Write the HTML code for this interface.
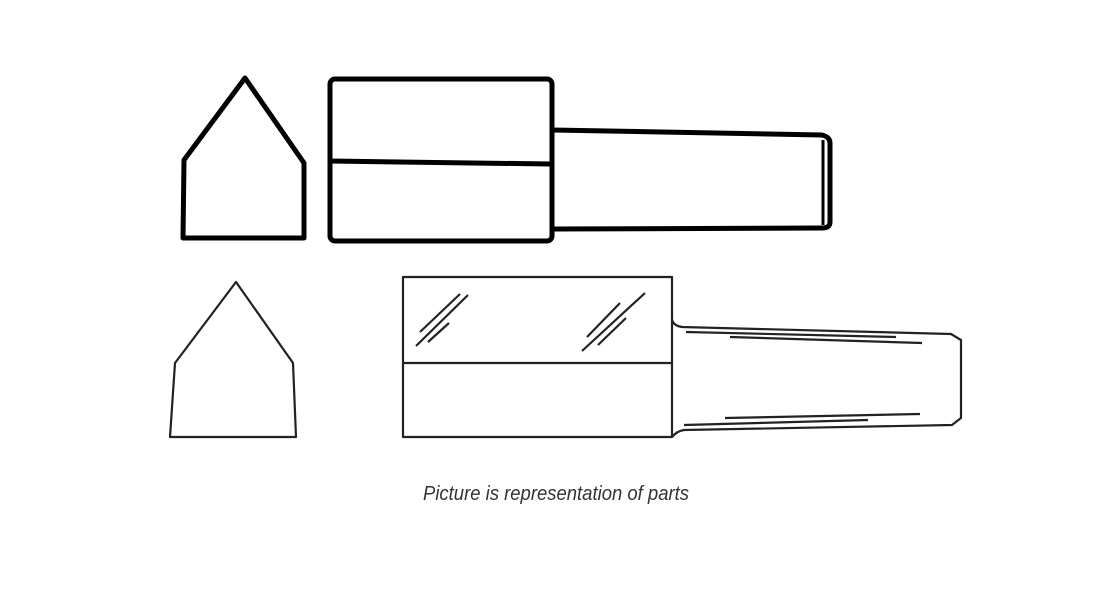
<!DOCTYPE html>
<html><head><meta charset="utf-8"><style>html,body{margin:0;padding:0;background:#fff;width:1110px;height:600px;overflow:hidden}</style></head>
<body>
<svg width="1110" height="600" viewBox="0 0 1110 600" xmlns="http://www.w3.org/2000/svg">
<g fill="none" stroke="#000" stroke-width="5" stroke-linejoin="round">
<polygon points="245,78 184,160 183,238 304,238 304,163"/>
<rect x="330" y="79" width="222" height="162" rx="5"/>
<line x1="330" y1="161" x2="550" y2="164"/>
<path d="M552,130 L822,135 Q830,137 830,143 L830,222 Q830,228 822,228 L552,229"/>
<line x1="823" y1="140" x2="823" y2="225" stroke-width="3"/>
</g>
<g fill="none" stroke="#222" stroke-width="2.2" stroke-linejoin="round">
<polygon points="236,282 175,363 170,437 296,437 293,363"/>
<rect x="403" y="277" width="269" height="160"/>
<line x1="403" y1="363" x2="672" y2="363"/>
<path d="M672,320 Q674,326 682,327 L951,334 L961,340 L961,418 L952,425 L684,430 Q677,431 672,437"/>
<line x1="416" y1="346" x2="468" y2="295"/>
<line x1="420" y1="332" x2="460" y2="294"/>
<line x1="428" y1="342" x2="449" y2="323"/>
<line x1="582" y1="351" x2="645" y2="293"/>
<line x1="587" y1="337" x2="620" y2="303"/>
<line x1="598" y1="345" x2="626" y2="318"/>
<line x1="686" y1="332" x2="896" y2="337"/>
<line x1="730" y1="337" x2="922" y2="343"/>
<line x1="725" y1="418" x2="920" y2="414"/>
<line x1="684" y1="425" x2="868" y2="420"/>
</g>
<text x="423" y="500" font-family="Liberation Sans, sans-serif" font-style="italic" font-size="20" fill="#333" textLength="266" lengthAdjust="spacingAndGlyphs">Picture is representation of parts</text>
</svg>
</body></html>
